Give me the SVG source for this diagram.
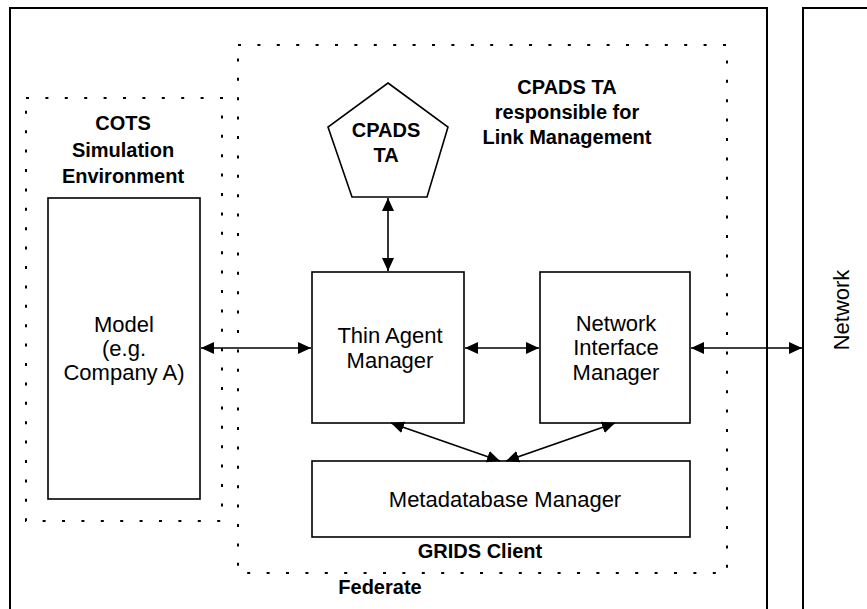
<svg xmlns="http://www.w3.org/2000/svg" width="867" height="609" viewBox="0 0 867 609">
  <style>
    .frame { fill: none; stroke: #000; stroke-width: 2; }
    .box { fill: #fff; stroke: #000; stroke-width: 1.6; }
    .dotted { fill: none; stroke: #000; stroke-width: 2; stroke-dasharray: 3 16.4; }
    .label { font-family: "Liberation Sans", Arial, sans-serif; font-size: 22px; fill: #000; text-anchor: middle; }
    .title { font-family: "Liberation Sans", Arial, sans-serif; font-size: 20px; font-weight: bold; fill: #000; text-anchor: middle; }
    .link { fill: none; stroke: #000; stroke-width: 1.6; marker-start: url(#head); marker-end: url(#head); }
  </style>
  <defs>
    <marker id="head" markerUnits="userSpaceOnUse" markerWidth="14" markerHeight="13" refX="13" refY="6" orient="auto-start-reverse">
      <path d="M0,0 L13,6 L0,12 Z" fill="#000"/>
    </marker>
  </defs>

  <rect width="867" height="609" fill="#fff"/>

  <!-- Federate frame -->
  <g id="federate">
    <path class="frame" d="M10,615 L10,8 L767,8 L767,615"/>
    <text class="title" x="380" y="594">Federate</text>
  </g>

  <!-- Network frame -->
  <g id="network">
    <path class="frame" d="M803,615 L803,8 L875,8"/>
    <text class="label" transform="translate(849,310) rotate(-90)">Network</text>
  </g>

  <!-- GRIDS client boundary -->
  <g id="grids-client">
    <rect class="dotted" x="238" y="45" width="489" height="528"/>
    <text class="title" x="480" y="558">GRIDS Client</text>
    <text class="title" x="567" y="94">CPADS TA</text>
    <text class="title" x="567" y="119">responsible for</text>
    <text class="title" x="567" y="144">Link Management</text>
  </g>

  <!-- COTS simulation environment boundary -->
  <g id="cots-env">
    <rect class="dotted" x="26" y="98" width="196" height="423"/>
    <text class="title" x="123" y="130">COTS</text>
    <text class="title" x="123" y="157">Simulation</text>
    <text class="title" x="123" y="183">Environment</text>
  </g>

  <g id="model">
    <rect class="box" x="48" y="198" width="152" height="301"/>
    <text class="label" x="124" y="332">Model</text>
    <text class="label" x="124" y="356">(e.g.</text>
    <text class="label" x="124" y="380">Company A)</text>
  </g>

  <g id="cpads-ta">
    <polygon class="box" points="388,83 448,127 427,197 352,197 328,127"/>
    <text class="title" x="386" y="137">CPADS</text>
    <text class="title" x="386" y="162">TA</text>
  </g>

  <g id="thin-agent-manager">
    <rect class="box" x="312" y="272" width="152" height="151"/>
    <text class="label" x="390" y="343">Thin Agent</text>
    <text class="label" x="390" y="368">Manager</text>
  </g>

  <g id="network-interface-manager">
    <rect class="box" x="540" y="272" width="150" height="151"/>
    <text class="label" x="616" y="331">Network</text>
    <text class="label" x="616" y="355">Interface</text>
    <text class="label" x="616" y="380">Manager</text>
  </g>

  <g id="metadatabase-manager">
    <rect class="box" x="312" y="461" width="378" height="76"/>
    <text class="label" x="505" y="507">Metadatabase Manager</text>
  </g>

  <!-- Connectors -->
  <g id="connectors">
    <line class="link" x1="388" y1="198" x2="388" y2="271"/>
    <line class="link" x1="201" y1="348" x2="311" y2="348"/>
    <line class="link" x1="465" y1="348" x2="539" y2="348"/>
    <line class="link" x1="691" y1="348" x2="802" y2="348"/>
    <line class="link" x1="391" y1="423" x2="500" y2="461"/>
    <line class="link" x1="615" y1="423" x2="506" y2="461"/>
  </g>
</svg>
